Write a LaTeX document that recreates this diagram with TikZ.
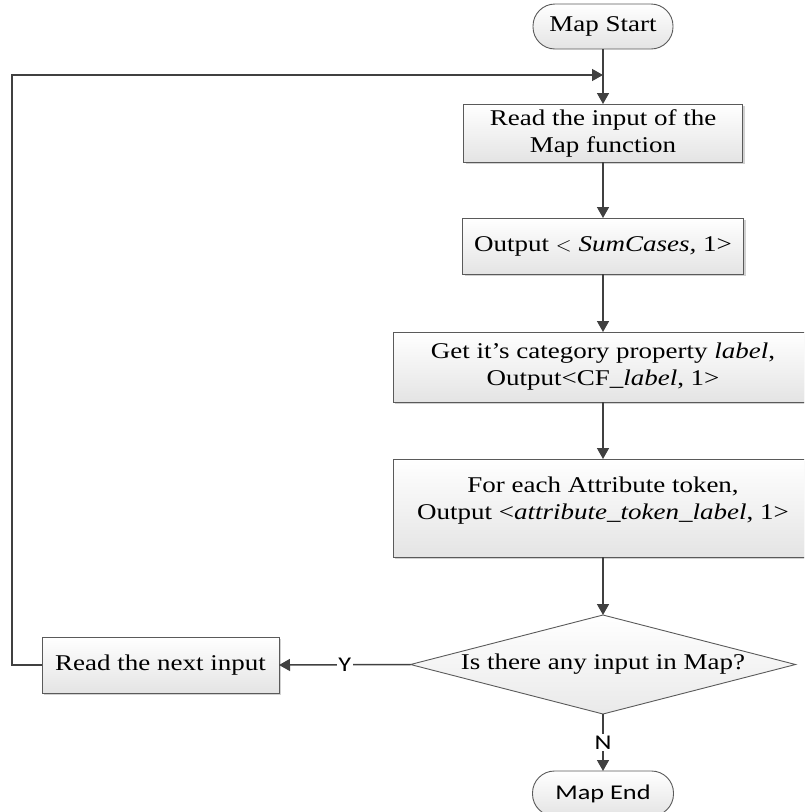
\documentclass[tikz,border=0pt]{standalone}
\usepackage{fontspec}
\setmainfont{Liberation Serif}[FakeStretch=1.2]
\newfontfamily\lblfont{Carlito}[FakeStretch=1.25]
\usetikzlibrary{shapes.geometric,arrows.meta,shadows}

\definecolor{edgegray}{HTML}{404040}
\definecolor{bordergray}{HTML}{5A5A5A}
\definecolor{fillbottom}{HTML}{E4E4E4}

\tikzset{
  base/.style={draw=bordergray, line width=0.9pt, inner sep=0pt, outer sep=0pt,
    top color=white, bottom color=fillbottom, align=center,
    font=\fontsize{22.5}{27}\selectfont},
  procbox/.style={base, rectangle,
    drop shadow={shadow xshift=2pt, shadow yshift=-2pt, fill=black, opacity=0.18}},
  terminal/.style={base, rectangle, rounded corners=22pt},
  decision/.style={base, diamond, top color=white, bottom color=fillbottom!80},
  plain/.style={align=center, inner sep=0pt, font=\fontsize{22.5}{27}\selectfont},
  conn/.style={draw=edgegray, line width=1.5pt,
    -{Triangle[length=11pt, width=12pt]}},
  lbl/.style={fill=white, inner sep=1.5pt, font=\lblfont\fontsize{21}{24}\selectfont,
    text=black}
}

\begin{document}
\begin{tikzpicture}[x=1pt, y=-1pt]
  \clip (0,0) rectangle (804,812);
  \useasboundingbox (0,0) rectangle (804,812);

  % terminals
  \node[terminal, minimum width=140pt, minimum height=45pt] (start) at (603,26.5) {Map Start};
  \node[terminal, minimum width=141pt, minimum height=45pt, font=\lblfont\fontsize{21}{24}\selectfont]
    (stop) at (603,793.5) {Map End};

  % processing steps
  \node[procbox, minimum width=279pt, minimum height=58pt] (readin) at (603,133)
    {Read the input of the\\Map function};
  \node[procbox, minimum width=281pt, minimum height=56pt] (sumcases) at (603,246)
    {Output $<$ \textit{SumCases,} 1>};
  \node[procbox, minimum width=420pt, minimum height=70pt] (category) at (603,367)
    {Get it’s category property \textit{label},\\Output<CF\_\textit{label}, 1>};
  \node[procbox, minimum width=420pt, minimum height=98pt] (attrbox) at (603,508) {};
  \node[plain] (attrtext) at (603,500.5)
    {For each Attribute token,\\Output <\textit{attribute\_token\_label}, 1>};

  % decision and loop-back step
  \node[decision, minimum width=385pt, minimum height=99pt] (check) at (603,664.5) {};
  \node[plain] (checktext) at (603,664.5) {Is there any input in Map?};
  \node[procbox, minimum width=237pt, minimum height=56pt] (nextin) at (160.5,665)
    {Read the next input};

  % loop route coordinates
  \coordinate (loopcorner) at (12,665);
  \coordinate (join) at (603,75);

  % connectors
  \draw[conn] (start.south) -- (readin.north);
  \draw[conn] (readin.south) -- (sumcases.north);
  \draw[conn] (sumcases.south) -- (category.north);
  \draw[conn] (category.south) -- (attrbox.north);
  \draw[conn] (attrbox.south) -- (check.north);
  \draw[conn] (check.west) -- node[lbl] {Y} (nextin.east);
  \draw[conn] (check.south) -- node[lbl] {N} (stop.north);
  \draw[conn] (nextin.west) -- (loopcorner) |- (join);
\end{tikzpicture}
\end{document}
